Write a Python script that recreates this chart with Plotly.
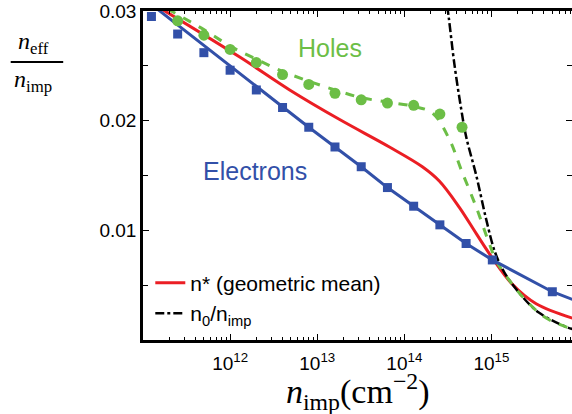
import plotly.graph_objects as go

# ---- data ----
elec_x = [1.25e11, 2.5e11, 5e11, 1e12, 2e12, 4e12, 8e12, 1.6e13, 3.2e13, 6.4e13,
          1.28e14, 2.56e14, 5.12e14, 1.024e15, 5e15]
elec_y = [0.0295, 0.0279, 0.0262, 0.0246, 0.0228, 0.0212, 0.0194, 0.0176, 0.0158, 0.0139,
          0.0122, 0.0105, 0.0088, 0.0073, 0.0044]

elec_line_x = [1.5e11, 1e12, 4e12, 8e12, 1.6e13, 3.2e13, 6.4e13, 1.28e14, 2.56e14,
               5.12e14, 1.024e15, 5e15, 8.5e15]
elec_line_y = [0.0301, 0.0250, 0.0212, 0.0194, 0.0176, 0.0158, 0.0139, 0.0122, 0.0105,
               0.0088, 0.0073, 0.0044, 0.0037]

hole_x = [2.5e11, 5e11, 1e12, 2e12, 4e12, 8e12, 1.6e13, 3.2e13, 6.4e13, 1.28e14,
          2.56e14, 4.6e14]
hole_y = [0.0291, 0.0278, 0.0265, 0.0253, 0.0242, 0.0233, 0.0225, 0.0219, 0.0216, 0.0214,
          0.0206, 0.0194]

hole_line_x = [1.9e11, 5e11, 1e12, 2e12, 4e12, 8e12, 1.6e13, 3.2e13, 6.4e13, 1.28e14,
               2.1e14, 3.29e14, 4.51e14, 6.7e14, 9.44e14, 1.14e15, 1.73e15, 2.5e15,
               4.25e15, 8.5e15]
hole_line_y = [0.0302, 0.0283, 0.0268, 0.0256, 0.0245, 0.0236, 0.0228, 0.0221, 0.0217,
               0.0213, 0.0207, 0.0183, 0.0155, 0.0121, 0.0088, 0.0072, 0.0051, 0.0036,
               0.0020, 0.0010]

nstar_x = [1.7e11, 1.29e12, 4.83e12, 1.81e13, 6.75e13, 1.61e14, 2.52e14, 4.28e14,
           6.7e14, 1.02e15, 1.73e15, 3.26e15, 8.5e15]
nstar_y = [0.0301, 0.0258, 0.0228, 0.0201, 0.0176, 0.0158, 0.0145, 0.0121, 0.0097,
           0.0075, 0.0051, 0.0033, 0.0020]

n0_x = [3.1e14, 3.25e14, 3.75e14, 4.51e14, 5.14e14, 6.7e14, 8.71e14, 1.1e15, 1.4e15,
        2.08e15, 3.5e15, 7.2e15, 8.5e15]
n0_y = [0.0305, 0.0293, 0.0252, 0.0210, 0.0185, 0.0150, 0.0110, 0.0080, 0.0062,
        0.0043, 0.0025, 0.0012, 0.0010]

x_tickvals = [1e12, 1e13, 1e14, 1e15]
x_ticktext = ["10<sup>12</sup>", "10<sup>13</sup>", "10<sup>14</sup>", "10<sup>15</sup>"]
y_tickvals = [0.01, 0.02, 0.03]
y_ticktext = ["0.01", "0.02", "0.03"]

BLUE = "rgb(50,80,168)"
GREEN = "rgb(108,190,70)"
RED = "rgb(235,30,36)"

fig = go.Figure()
fig.add_trace(go.Scatter(x=nstar_x, y=nstar_y, mode="lines", line=dict(color=RED, width=3, shape="spline"),
                         name="n* (geometric mean)"))
fig.add_trace(go.Scatter(x=n0_x, y=n0_y, mode="lines", line=dict(color="black", width=2.5, dash="dashdot", shape="spline"),
                         name="n<sub>0</sub>/n<sub>imp</sub>"))
fig.add_trace(go.Scatter(x=hole_line_x, y=hole_line_y, mode="lines",
                         line=dict(color=GREEN, width=3, dash="dash", shape="spline"), showlegend=False))
fig.add_trace(go.Scatter(x=elec_line_x, y=elec_line_y, mode="lines",
                         line=dict(color=BLUE, width=3), showlegend=False))
fig.add_trace(go.Scatter(x=elec_x, y=elec_y, mode="markers",
                         marker=dict(symbol="square", size=9, color=BLUE), showlegend=False))
fig.add_trace(go.Scatter(x=hole_x, y=hole_y, mode="markers",
                         marker=dict(symbol="circle", size=11, color=GREEN), showlegend=False))

axis_common = dict(showline=True, linecolor="black", linewidth=2.5, mirror="ticks",
                   ticks="inside", tickcolor="black", showgrid=False, zeroline=False,
                   automargin=False,
                   tickfont=dict(family="Liberation Sans, Arial", size=19, color="black"))

fig.update_xaxes(type="log", range=[11, 15.925], tickvals=x_tickvals, ticktext=x_ticktext,
                 ticklen=6, tickwidth=1.2, ticklabelstandoff=4,
                 minor=dict(ticks="inside", ticklen=3, dtick="D1", tickcolor="black", tickwidth=1),
                 **axis_common)
fig.update_yaxes(range=[0, 0.03], tickvals=y_tickvals, ticktext=y_ticktext,
                 ticklen=6, tickwidth=1.2,
                 minor=dict(ticks="inside", ticklen=5, dtick=0.005, tick0=0, tickcolor="black", tickwidth=1),
                 **axis_common)

SERIF = "Liberation Serif, Times New Roman, serif"
SANS = "Liberation Sans, Arial"
ann = [
    dict(text="Holes", x=0.436, y=0.888, xanchor="center", yanchor="middle",
         font=dict(family=SANS, size=25, color=GREEN)),
    dict(text="Electrons", x=0.261, y=0.514, xanchor="center", yanchor="middle",
         font=dict(family=SANS, size=25, color=BLUE)),
    dict(text="<i>n</i><sub>eff</sub>", x=-0.256, y=0.852, xanchor="center", yanchor="bottom",
         font=dict(family=SERIF, size=24, color="black")),
    dict(text="<i>n</i><sub>imp</sub>", x=-0.256, y=0.838, xanchor="center", yanchor="top",
         font=dict(family=SERIF, size=24, color="black")),
    dict(text="<i>n</i><sub>imp</sub>(cm<sup>−2</sup>)", x=0.50, y=-0.079, xanchor="center",
         yanchor="top", font=dict(family=SERIF, size=34, color="black")),
]
for a in ann:
    a.update(xref="paper", yref="paper", showarrow=False)
# fraction bar drawn as an arrow-less annotation line
ann.append(dict(text=" ", x=-0.186, y=0.845, xref="paper", yref="paper", showarrow=True,
                ax=-53, ay=0, axref="pixel", ayref="pixel", arrowhead=0, arrowwidth=2,
                arrowcolor="black", standoff=0, startstandoff=0, borderpad=0,
                font=dict(size=1)))

fig.update_layout(
    width=572, height=414,
    margin=dict(l=143, r=0, t=11, b=74),
    paper_bgcolor="white", plot_bgcolor="white",
    annotations=ann,
    legend=dict(x=0.017, y=0.235, xanchor="left", yanchor="top", bgcolor="rgba(0,0,0,0)",
                font=dict(family=SANS, size=21, color="black"),
                itemwidth=30, tracegroupgap=0),
    showlegend=True,
)

fig.write_html("out.html", config={"displayModeBar": False},
               post_script="document.body.style.margin='0';document.body.style.overflow='hidden';")
